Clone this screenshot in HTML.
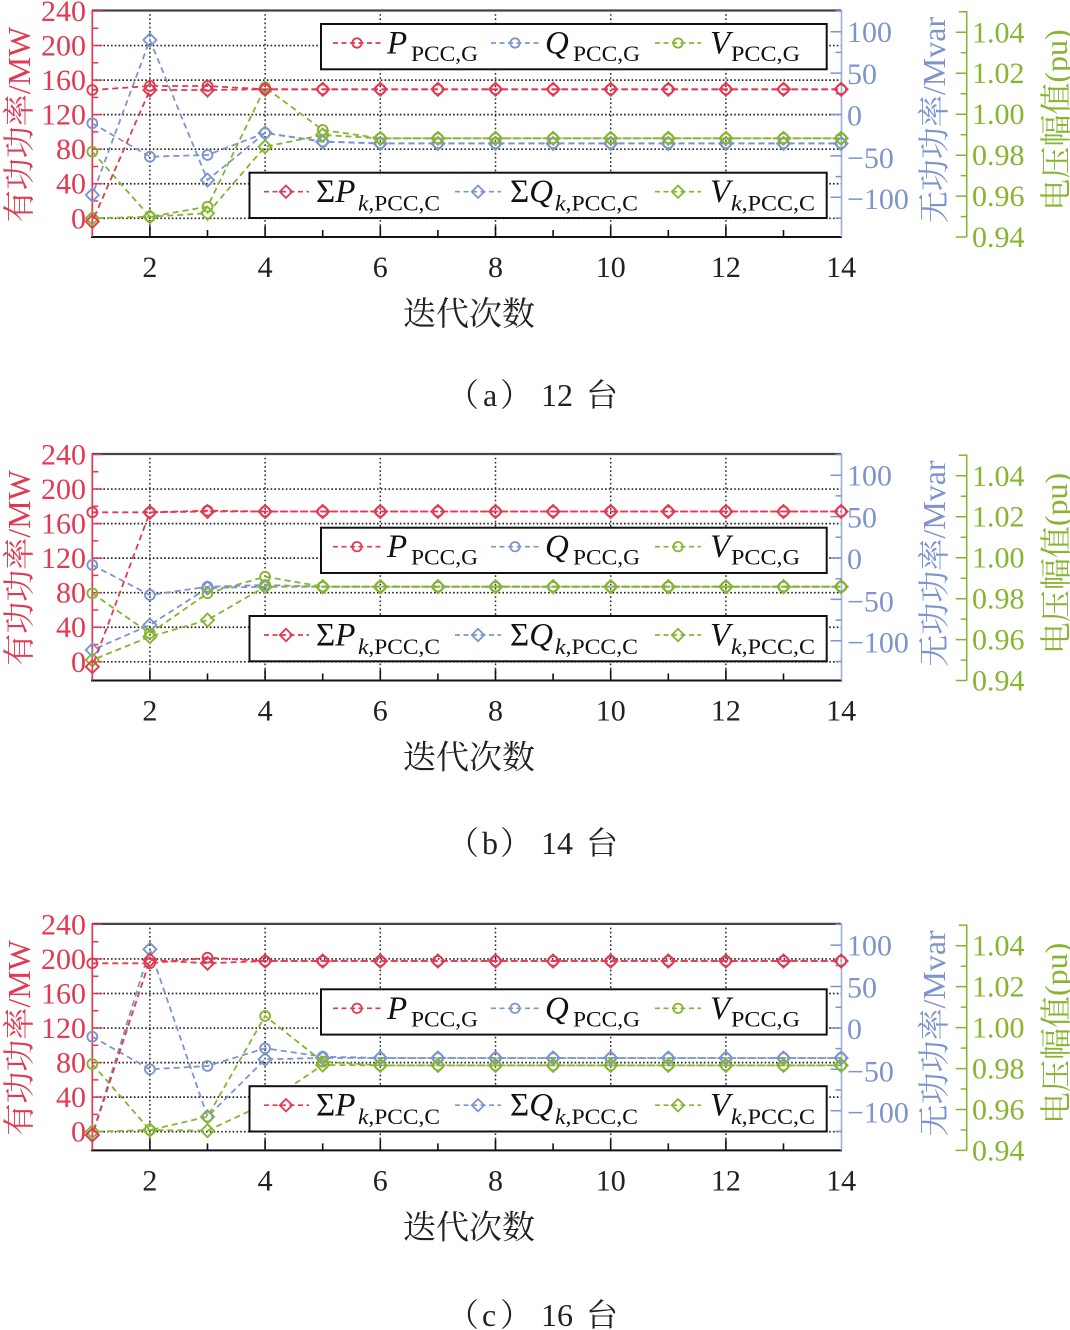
<!DOCTYPE html>
<html><head><meta charset="utf-8">
<style>
html,body{margin:0;padding:0;background:#fff;width:1070px;height:1330px;overflow:hidden}
svg{display:block}
.s{fill:none;stroke-width:1.8;stroke-dasharray:6 4}
.r{stroke:#e23a52}.b{stroke:#7d95cc}.g{stroke:#86b530}
.t{font-family:"Liberation Serif","Noto Serif CJK SC",serif}
.lg{stroke-width:1.7;stroke-dasharray:5 3.5}
</style></head>
<body>
<svg width="1070" height="1330" viewBox="0 0 1070 1330" xmlns="http://www.w3.org/2000/svg">
<defs>
<marker id="cR" markerUnits="userSpaceOnUse" markerWidth="16" markerHeight="16" refX="8" refY="8" overflow="visible"><circle cx="8" cy="8" r="4.9" fill="none" stroke="#e23a52" stroke-width="1.9" stroke-dasharray="none"/></marker>
<marker id="dR" markerUnits="userSpaceOnUse" markerWidth="16" markerHeight="16" refX="8" refY="8" overflow="visible"><path d="M8 1.5L14.5 8L8 14.5L1.5 8Z" fill="none" stroke="#e23a52" stroke-width="1.9" stroke-dasharray="none"/></marker>
<marker id="cB" markerUnits="userSpaceOnUse" markerWidth="16" markerHeight="16" refX="8" refY="8" overflow="visible"><circle cx="8" cy="8" r="4.9" fill="none" stroke="#7d95cc" stroke-width="1.9" stroke-dasharray="none"/></marker>
<marker id="dB" markerUnits="userSpaceOnUse" markerWidth="16" markerHeight="16" refX="8" refY="8" overflow="visible"><path d="M8 1.5L14.5 8L8 14.5L1.5 8Z" fill="none" stroke="#7d95cc" stroke-width="1.9" stroke-dasharray="none"/></marker>
<marker id="cG" markerUnits="userSpaceOnUse" markerWidth="16" markerHeight="16" refX="8" refY="8" overflow="visible"><circle cx="8" cy="8" r="4.9" fill="none" stroke="#86b530" stroke-width="1.9" stroke-dasharray="none"/></marker>
<marker id="dG" markerUnits="userSpaceOnUse" markerWidth="16" markerHeight="16" refX="8" refY="8" overflow="visible"><path d="M8 1.5L14.5 8L8 14.5L1.5 8Z" fill="none" stroke="#86b530" stroke-width="1.9" stroke-dasharray="none"/></marker>

<g id="ax">
  <path d="M149.9 10V237M265.1 10V237M380.3 10V237M495.5 10V237M610.7 10V237M725.9 10V237" stroke="#222" stroke-width="1.5" stroke-dasharray="1.6 2.6" fill="none"/>
  <path d="M92 45.55H841M92 80.1H841M92 114.65H841M92 149.2H841M92 183.75H841M92 218.3H841" stroke="#222" stroke-width="1.7" stroke-dasharray="1.6 2.2" fill="none"/>
  <path d="M92 10.5H841" stroke="#444" stroke-width="2.2"/>
  <path d="M91 237H842" stroke="#111" stroke-width="2"/>
  <path d="M149.9 237v-11M265.1 237v-11M380.3 237v-11M495.5 237v-11M610.7 237v-11M725.9 237v-11M207.5 237v-7M322.7 237v-7M437.9 237v-7M553.1 237v-7M668.3 237v-7M783.5 237v-7" stroke="#111" stroke-width="1.6"/>
  <path d="M92.3 10V237" stroke="#e23a52" stroke-width="1.7"/>
  <path d="M92.3 218.3h10M92.3 183.75h10M92.3 149.2h10M92.3 114.65h10M92.3 80.1h10M92.3 45.55h10M92.3 11h10M92.3 201h6M92.3 166.5h6M92.3 131.9h6M92.3 97.4h6M92.3 62.8h6M92.3 28.3h6" stroke="#e23a52" stroke-width="1.5"/>
  <path d="M841.5 10V237" stroke="#9aaedb" stroke-width="1.6"/>
  <path d="M841.5 31.7h-11M841.5 73.1h-11M841.5 114.5h-11M841.5 155.9h-11M841.5 197.3h-11M841.5 11h-6M841.5 52.4h-6M841.5 93.8h-6M841.5 135.2h-6M841.5 176.6h-6M841.5 218h-6" stroke="#7d95cc" stroke-width="1.5"/>
  <path d="M966.7 11V237" stroke="#86b530" stroke-width="1.6"/>
  <path d="M966.7 32.3h-11M966.7 73.2h-11M966.7 114.2h-11M966.7 155.2h-11M966.7 196.1h-11M966.7 237h-11M966.7 11.8h-8M966.7 52.8h-6M966.7 93.7h-6M966.7 134.7h-6M966.7 175.6h-6M966.7 216.6h-6" stroke="#86b530" stroke-width="1.5"/>
</g>
</defs>

<!-- ================= PANEL A ================= -->
<g>
<use href="#ax"/>
<polyline class="s b" marker-start="url(#cB)" marker-mid="url(#cB)" marker-end="url(#cB)" points="92.3,123.3 149.9,156.7 207.5,155 265.1,133 322.7,141.5 380.3,143.3 437.9,143.3 495.5,143.3 553.1,143.3 610.7,143.3 668.3,143.3 725.9,143.3 783.5,143.3 841.1,143.3"/>
<polyline class="s b" style="stroke-dashoffset:5" marker-start="url(#dB)" marker-mid="url(#dB)" marker-end="url(#dB)" points="92.3,195 149.9,40 207.5,180 265.1,133 322.7,141.7 380.3,143.5 437.9,143.5 495.5,143.5 553.1,143.5 610.7,143.5 668.3,143.5 725.9,143.5 783.5,143.5 841.1,143.5"/>
<polyline class="s g" marker-start="url(#cG)" marker-mid="url(#cG)" marker-end="url(#cG)" points="92.3,151.7 149.9,216.7 207.5,206.7 265.1,87.3 322.7,130 380.3,138.3 437.9,138.3 495.5,138.3 553.1,138.3 610.7,138.3 668.3,138.3 725.9,138.3 783.5,138.3 841.1,138.3"/>
<polyline class="s g" style="stroke-dashoffset:5" marker-start="url(#dG)" marker-mid="url(#dG)" marker-end="url(#dG)" points="92.3,218.3 149.9,216.7 207.5,213.3 265.1,146.7 322.7,135 380.3,138.3 437.9,138.3 495.5,138.3 553.1,138.3 610.7,138.3 668.3,138.3 725.9,138.3 783.5,138.3 841.1,138.3"/>
<polyline class="s r" marker-start="url(#cR)" marker-mid="url(#cR)" marker-end="url(#cR)" points="92.3,90 149.9,86 207.5,86 265.1,89.3 322.7,89.3 380.3,89.3 437.9,89.3 495.5,89.3 553.1,89.3 610.7,89.3 668.3,89.3 725.9,89.3 783.5,89.3 841.1,89.3"/>
<polyline class="s r" style="stroke-dashoffset:5" marker-start="url(#dR)" marker-mid="url(#dR)" marker-end="url(#dR)" points="92.3,221.5 149.9,90 207.5,90 265.1,89.3 322.7,89.3 380.3,89.3 437.9,89.3 495.5,89.3 553.1,89.3 610.7,89.3 668.3,89.3 725.9,89.3 783.5,89.3 841.1,89.3"/>

<g transform="translate(0,24)">
  <rect x="321" y="0" width="505.7" height="45.3" fill="#fff" stroke="#111" stroke-width="2"/>
  <line class="lg r" x1="333" y1="19" x2="381" y2="19"/><circle cx="357" cy="19" r="4.7" fill="none" stroke="#e23a52" stroke-width="1.8"/>
  <text class="t" x="387" y="29.5" font-size="33" font-style="italic" fill="#111">P</text>
  <text class="t" x="411" y="37" font-size="22" fill="#111" textLength="67" lengthAdjust="spacingAndGlyphs">PCC,G</text>
  <line class="lg b" x1="491" y1="19" x2="539" y2="19"/><circle cx="515" cy="19" r="4.7" fill="none" stroke="#7d95cc" stroke-width="1.8"/>
  <text class="t" x="545" y="29.5" font-size="33" font-style="italic" fill="#111">Q</text>
  <text class="t" x="573" y="37" font-size="22" fill="#111" textLength="67" lengthAdjust="spacingAndGlyphs">PCC,G</text>
  <line class="lg g" x1="655" y1="19" x2="701" y2="19"/><circle cx="678" cy="19" r="4.7" fill="none" stroke="#86b530" stroke-width="1.8"/>
  <text class="t" x="710" y="29.5" font-size="33" font-style="italic" fill="#111">V</text>
  <text class="t" x="731" y="37" font-size="22" fill="#111" textLength="69" lengthAdjust="spacingAndGlyphs">PCC,G</text>
</g>
<g transform="translate(0,172.7)">
  <rect x="249.5" y="0" width="577.2" height="45.3" fill="#fff" stroke="#111" stroke-width="2"/>
  <line class="lg r" x1="264" y1="19" x2="309" y2="19"/><path d="M286 12.8L292.2 19L286 25.2L279.8 19Z" fill="none" stroke="#e23a52" stroke-width="1.8"/>
  <text class="t" x="316" y="29.5" font-size="33" fill="#111">Σ<tspan font-style="italic">P</tspan></text>
  <text class="t" x="358" y="38" font-size="22" fill="#111" textLength="82" lengthAdjust="spacingAndGlyphs"><tspan font-style="italic">k</tspan>,PCC,C</text>
  <line class="lg b" x1="455" y1="19" x2="501" y2="19"/><path d="M478 12.8L484.2 19L478 25.2L471.8 19Z" fill="none" stroke="#7d95cc" stroke-width="1.8"/>
  <text class="t" x="510" y="29.5" font-size="33" fill="#111">Σ<tspan font-style="italic">Q</tspan></text>
  <text class="t" x="555" y="38" font-size="22" fill="#111" textLength="83" lengthAdjust="spacingAndGlyphs"><tspan font-style="italic">k</tspan>,PCC,C</text>
  <line class="lg g" x1="655" y1="19" x2="701" y2="19"/><path d="M678 12.8L684.2 19L678 25.2L671.8 19Z" fill="none" stroke="#86b530" stroke-width="1.8"/>
  <text class="t" x="710" y="29.5" font-size="33" font-style="italic" fill="#111">V</text>
  <text class="t" x="731" y="38" font-size="22" fill="#111" textLength="84" lengthAdjust="spacingAndGlyphs"><tspan font-style="italic">k</tspan>,PCC,C</text>
</g>

<g class="t" font-size="30" fill="#e23a52" text-anchor="end">
  <text x="86" y="21">240</text><text x="86" y="55.5">200</text><text x="86" y="90">160</text><text x="86" y="124.7">120</text><text x="86" y="159.2">80</text><text x="86" y="193.7">40</text><text x="86" y="228.3">0</text>
</g>
<g class="t" font-size="30" fill="#7d95cc">
  <text x="847" y="42">100</text><text x="847" y="84">50</text><text x="847" y="125.5">0</text><text x="847" y="168">−50</text><text x="847" y="209">−100</text>
</g>
<g class="t" font-size="30" fill="#86b530">
  <text x="972" y="42.3">1.04</text><text x="972" y="83.2">1.02</text><text x="972" y="124.2">1.00</text><text x="972" y="165.2">0.98</text><text x="972" y="206.1">0.96</text><text x="972" y="247">0.94</text>
</g>
<g class="t" font-size="30" fill="#222" text-anchor="middle">
  <text x="149.9" y="277">2</text><text x="265.1" y="277">4</text><text x="380.3" y="277">6</text><text x="495.5" y="277">8</text><text x="610.7" y="277">10</text><text x="725.9" y="277">12</text><text x="841.1" y="277">14</text>
</g>
<text class="t" transform="translate(30,124.5) rotate(-90)" text-anchor="middle" font-size="32" fill="#e23a52">有功功率/MW</text>
<text class="t" transform="translate(945,120) rotate(-90)" text-anchor="middle" font-size="32" fill="#7d95cc">无功功率/Mvar</text>
<text class="t" transform="translate(1067,120) rotate(-90)" text-anchor="middle" font-size="32" fill="#86b530">电压幅值(pu)</text>
<text class="t" x="469" y="325" text-anchor="middle" font-size="33" fill="#222">迭代次数</text>
</g>
<text class="t" y="406" font-size="32" fill="#222"><tspan x="447">（</tspan><tspan x="483">a</tspan><tspan x="500">）</tspan><tspan x="541">12</tspan><tspan x="586">台</tspan></text>

<!-- ================= PANEL B ================= -->
<g transform="translate(0,443.5)">
<use href="#ax"/>
<polyline class="s b" marker-start="url(#cB)" marker-mid="url(#cB)" marker-end="url(#cB)" points="92.3,121.5 149.9,151.5 207.5,143.2 265.1,141.5 322.7,143.2 380.3,143.2 437.9,143.2 495.5,143.2 553.1,143.2 610.7,143.2 668.3,143.2 725.9,143.2 783.5,143.2 841.1,143.2"/>
<polyline class="s b" style="stroke-dashoffset:5" marker-start="url(#dB)" marker-mid="url(#dB)" marker-end="url(#dB)" points="92.3,206.5 149.9,181.5 207.5,144.5 265.1,143.2 322.7,143.2 380.3,143.2 437.9,143.2 495.5,143.2 553.1,143.2 610.7,143.2 668.3,143.2 725.9,143.2 783.5,143.2 841.1,143.2"/>
<polyline class="s g" marker-start="url(#cG)" marker-mid="url(#cG)" marker-end="url(#cG)" points="92.3,149.8 149.9,189.8 207.5,149.8 265.1,133.2 322.7,143.2 380.3,143.2 437.9,143.2 495.5,143.2 553.1,143.2 610.7,143.2 668.3,143.2 725.9,143.2 783.5,143.2 841.1,143.2"/>
<polyline class="s g" style="stroke-dashoffset:5" marker-start="url(#dG)" marker-mid="url(#dG)" marker-end="url(#dG)" points="92.3,216.5 149.9,193.2 207.5,176.5 265.1,143.2 322.7,143.2 380.3,143.2 437.9,143.2 495.5,143.2 553.1,143.2 610.7,143.2 668.3,143.2 725.9,143.2 783.5,143.2 841.1,143.2"/>
<polyline class="s r" marker-start="url(#cR)" marker-mid="url(#cR)" marker-end="url(#cR)" points="92.3,68.8 149.9,68.8 207.5,67.2 265.1,68 322.7,68 380.3,68 437.9,68 495.5,68 553.1,68 610.7,68 668.3,68 725.9,68 783.5,68 841.1,68"/>
<polyline class="s r" style="stroke-dashoffset:5" marker-start="url(#dR)" marker-mid="url(#dR)" marker-end="url(#dR)" points="92.3,223.2 149.9,68.8 207.5,68 265.1,68 322.7,68 380.3,68 437.9,68 495.5,68 553.1,68 610.7,68 668.3,68 725.9,68 783.5,68 841.1,68"/>

<g transform="translate(0,84.2)">
  <rect x="321" y="0" width="505.7" height="45.3" fill="#fff" stroke="#111" stroke-width="2"/>
  <line class="lg r" x1="333" y1="19" x2="381" y2="19"/><circle cx="357" cy="19" r="4.7" fill="none" stroke="#e23a52" stroke-width="1.8"/>
  <text class="t" x="387" y="29.5" font-size="33" font-style="italic" fill="#111">P</text>
  <text class="t" x="411" y="37" font-size="22" fill="#111" textLength="67" lengthAdjust="spacingAndGlyphs">PCC,G</text>
  <line class="lg b" x1="491" y1="19" x2="539" y2="19"/><circle cx="515" cy="19" r="4.7" fill="none" stroke="#7d95cc" stroke-width="1.8"/>
  <text class="t" x="545" y="29.5" font-size="33" font-style="italic" fill="#111">Q</text>
  <text class="t" x="573" y="37" font-size="22" fill="#111" textLength="67" lengthAdjust="spacingAndGlyphs">PCC,G</text>
  <line class="lg g" x1="655" y1="19" x2="701" y2="19"/><circle cx="678" cy="19" r="4.7" fill="none" stroke="#86b530" stroke-width="1.8"/>
  <text class="t" x="710" y="29.5" font-size="33" font-style="italic" fill="#111">V</text>
  <text class="t" x="731" y="37" font-size="22" fill="#111" textLength="69" lengthAdjust="spacingAndGlyphs">PCC,G</text>
</g>
<g transform="translate(0,172.5)">
  <rect x="249.5" y="0" width="577.2" height="45.3" fill="#fff" stroke="#111" stroke-width="2"/>
  <line class="lg r" x1="264" y1="19" x2="309" y2="19"/><path d="M286 12.8L292.2 19L286 25.2L279.8 19Z" fill="none" stroke="#e23a52" stroke-width="1.8"/>
  <text class="t" x="316" y="29.5" font-size="33" fill="#111">Σ<tspan font-style="italic">P</tspan></text>
  <text class="t" x="358" y="38" font-size="22" fill="#111" textLength="82" lengthAdjust="spacingAndGlyphs"><tspan font-style="italic">k</tspan>,PCC,C</text>
  <line class="lg b" x1="455" y1="19" x2="501" y2="19"/><path d="M478 12.8L484.2 19L478 25.2L471.8 19Z" fill="none" stroke="#7d95cc" stroke-width="1.8"/>
  <text class="t" x="510" y="29.5" font-size="33" fill="#111">Σ<tspan font-style="italic">Q</tspan></text>
  <text class="t" x="555" y="38" font-size="22" fill="#111" textLength="83" lengthAdjust="spacingAndGlyphs"><tspan font-style="italic">k</tspan>,PCC,C</text>
  <line class="lg g" x1="655" y1="19" x2="701" y2="19"/><path d="M678 12.8L684.2 19L678 25.2L671.8 19Z" fill="none" stroke="#86b530" stroke-width="1.8"/>
  <text class="t" x="710" y="29.5" font-size="33" font-style="italic" fill="#111">V</text>
  <text class="t" x="731" y="38" font-size="22" fill="#111" textLength="84" lengthAdjust="spacingAndGlyphs"><tspan font-style="italic">k</tspan>,PCC,C</text>
</g>

<g class="t" font-size="30" fill="#e23a52" text-anchor="end">
  <text x="86" y="21">240</text><text x="86" y="55.5">200</text><text x="86" y="90">160</text><text x="86" y="124.7">120</text><text x="86" y="159.2">80</text><text x="86" y="193.7">40</text><text x="86" y="228.3">0</text>
</g>
<g class="t" font-size="30" fill="#7d95cc">
  <text x="847" y="42">100</text><text x="847" y="84">50</text><text x="847" y="125.5">0</text><text x="847" y="168">−50</text><text x="847" y="209">−100</text>
</g>
<g class="t" font-size="30" fill="#86b530">
  <text x="972" y="42.3">1.04</text><text x="972" y="83.2">1.02</text><text x="972" y="124.2">1.00</text><text x="972" y="165.2">0.98</text><text x="972" y="206.1">0.96</text><text x="972" y="247">0.94</text>
</g>
<g class="t" font-size="30" fill="#222" text-anchor="middle">
  <text x="149.9" y="277">2</text><text x="265.1" y="277">4</text><text x="380.3" y="277">6</text><text x="495.5" y="277">8</text><text x="610.7" y="277">10</text><text x="725.9" y="277">12</text><text x="841.1" y="277">14</text>
</g>
<text class="t" transform="translate(30,124.5) rotate(-90)" text-anchor="middle" font-size="32" fill="#e23a52">有功功率/MW</text>
<text class="t" transform="translate(945,120) rotate(-90)" text-anchor="middle" font-size="32" fill="#7d95cc">无功功率/Mvar</text>
<text class="t" transform="translate(1067,120) rotate(-90)" text-anchor="middle" font-size="32" fill="#86b530">电压幅值(pu)</text>
<text class="t" x="469" y="325" text-anchor="middle" font-size="33" fill="#222">迭代次数</text>
</g>
<text class="t" y="854" font-size="32" fill="#222"><tspan x="447">（</tspan><tspan x="482">b</tspan><tspan x="500">）</tspan><tspan x="541">14</tspan><tspan x="586">台</tspan></text>

<!-- ================= PANEL C ================= -->
<g transform="translate(0,913.4)">
<use href="#ax"/>
<polyline class="s b" marker-start="url(#cB)" marker-mid="url(#cB)" marker-end="url(#cB)" points="92.3,123.3 149.9,155.9 207.5,152.6 265.1,134.9 322.7,143.3 380.3,144.6 437.9,144.6 495.5,144.6 553.1,144.6 610.7,144.6 668.3,144.6 725.9,144.6 783.5,144.6 841.1,144.6"/>
<polyline class="s b" style="stroke-dashoffset:5" marker-start="url(#dB)" marker-mid="url(#dB)" marker-end="url(#dB)" points="92.3,221.6 149.9,35.9 207.5,203.3 265.1,145.9 322.7,144.6 380.3,144.6 437.9,144.6 495.5,144.6 553.1,144.6 610.7,144.6 668.3,144.6 725.9,144.6 783.5,144.6 841.1,144.6"/>
<polyline class="s g" marker-start="url(#cG)" marker-mid="url(#cG)" marker-end="url(#cG)" points="92.3,150.6 149.9,216.6 207.5,203.3 265.1,102.6 322.7,148.3 380.3,152 437.9,152 495.5,152 553.1,152 610.7,152 668.3,152 725.9,152 783.5,152 841.1,152"/>
<polyline class="s g" style="stroke-dashoffset:5" marker-start="url(#dG)" marker-mid="url(#dG)" marker-end="url(#dG)" points="92.3,218.3 149.9,216.6 207.5,217.3 265.1,190.3 322.7,151.6 380.3,152 437.9,152 495.5,152 553.1,152 610.7,152 668.3,152 725.9,152 783.5,152 841.1,152"/>
<polyline class="s r" marker-start="url(#cR)" marker-mid="url(#cR)" marker-end="url(#cR)" points="92.3,49.9 149.9,49.9 207.5,44.3 265.1,47.6 322.7,47.6 380.3,47.6 437.9,47.6 495.5,47.6 553.1,47.6 610.7,47.6 668.3,47.6 725.9,47.6 783.5,47.6 841.1,47.6"/>
<polyline class="s r" style="stroke-dashoffset:5" marker-start="url(#dR)" marker-mid="url(#dR)" marker-end="url(#dR)" points="92.3,221.6 149.9,46.6 207.5,49.9 265.1,47.6 322.7,47.6 380.3,47.6 437.9,47.6 495.5,47.6 553.1,47.6 610.7,47.6 668.3,47.6 725.9,47.6 783.5,47.6 841.1,47.6"/>

<g transform="translate(0,75.9)">
  <rect x="321" y="0" width="505.7" height="45.3" fill="#fff" stroke="#111" stroke-width="2"/>
  <line class="lg r" x1="333" y1="19" x2="381" y2="19"/><circle cx="357" cy="19" r="4.7" fill="none" stroke="#e23a52" stroke-width="1.8"/>
  <text class="t" x="387" y="29.5" font-size="33" font-style="italic" fill="#111">P</text>
  <text class="t" x="411" y="37" font-size="22" fill="#111" textLength="67" lengthAdjust="spacingAndGlyphs">PCC,G</text>
  <line class="lg b" x1="491" y1="19" x2="539" y2="19"/><circle cx="515" cy="19" r="4.7" fill="none" stroke="#7d95cc" stroke-width="1.8"/>
  <text class="t" x="545" y="29.5" font-size="33" font-style="italic" fill="#111">Q</text>
  <text class="t" x="573" y="37" font-size="22" fill="#111" textLength="67" lengthAdjust="spacingAndGlyphs">PCC,G</text>
  <line class="lg g" x1="655" y1="19" x2="701" y2="19"/><circle cx="678" cy="19" r="4.7" fill="none" stroke="#86b530" stroke-width="1.8"/>
  <text class="t" x="710" y="29.5" font-size="33" font-style="italic" fill="#111">V</text>
  <text class="t" x="731" y="37" font-size="22" fill="#111" textLength="69" lengthAdjust="spacingAndGlyphs">PCC,G</text>
</g>
<g transform="translate(0,172.8)">
  <rect x="249.5" y="0" width="577.2" height="45.3" fill="#fff" stroke="#111" stroke-width="2"/>
  <line class="lg r" x1="264" y1="19" x2="309" y2="19"/><path d="M286 12.8L292.2 19L286 25.2L279.8 19Z" fill="none" stroke="#e23a52" stroke-width="1.8"/>
  <text class="t" x="316" y="29.5" font-size="33" fill="#111">Σ<tspan font-style="italic">P</tspan></text>
  <text class="t" x="358" y="38" font-size="22" fill="#111" textLength="82" lengthAdjust="spacingAndGlyphs"><tspan font-style="italic">k</tspan>,PCC,C</text>
  <line class="lg b" x1="455" y1="19" x2="501" y2="19"/><path d="M478 12.8L484.2 19L478 25.2L471.8 19Z" fill="none" stroke="#7d95cc" stroke-width="1.8"/>
  <text class="t" x="510" y="29.5" font-size="33" fill="#111">Σ<tspan font-style="italic">Q</tspan></text>
  <text class="t" x="555" y="38" font-size="22" fill="#111" textLength="83" lengthAdjust="spacingAndGlyphs"><tspan font-style="italic">k</tspan>,PCC,C</text>
  <line class="lg g" x1="655" y1="19" x2="701" y2="19"/><path d="M678 12.8L684.2 19L678 25.2L671.8 19Z" fill="none" stroke="#86b530" stroke-width="1.8"/>
  <text class="t" x="710" y="29.5" font-size="33" font-style="italic" fill="#111">V</text>
  <text class="t" x="731" y="38" font-size="22" fill="#111" textLength="84" lengthAdjust="spacingAndGlyphs"><tspan font-style="italic">k</tspan>,PCC,C</text>
</g>

<g class="t" font-size="30" fill="#e23a52" text-anchor="end">
  <text x="86" y="21">240</text><text x="86" y="55.5">200</text><text x="86" y="90">160</text><text x="86" y="124.7">120</text><text x="86" y="159.2">80</text><text x="86" y="193.7">40</text><text x="86" y="228.3">0</text>
</g>
<g class="t" font-size="30" fill="#7d95cc">
  <text x="847" y="42">100</text><text x="847" y="84">50</text><text x="847" y="125.5">0</text><text x="847" y="168">−50</text><text x="847" y="209">−100</text>
</g>
<g class="t" font-size="30" fill="#86b530">
  <text x="972" y="42.3">1.04</text><text x="972" y="83.2">1.02</text><text x="972" y="124.2">1.00</text><text x="972" y="165.2">0.98</text><text x="972" y="206.1">0.96</text><text x="972" y="247">0.94</text>
</g>
<g class="t" font-size="30" fill="#222" text-anchor="middle">
  <text x="149.9" y="277">2</text><text x="265.1" y="277">4</text><text x="380.3" y="277">6</text><text x="495.5" y="277">8</text><text x="610.7" y="277">10</text><text x="725.9" y="277">12</text><text x="841.1" y="277">14</text>
</g>
<text class="t" transform="translate(30,124.5) rotate(-90)" text-anchor="middle" font-size="32" fill="#e23a52">有功功率/MW</text>
<text class="t" transform="translate(945,120) rotate(-90)" text-anchor="middle" font-size="32" fill="#7d95cc">无功功率/Mvar</text>
<text class="t" transform="translate(1067,120) rotate(-90)" text-anchor="middle" font-size="32" fill="#86b530">电压幅值(pu)</text>
<text class="t" x="469" y="325" text-anchor="middle" font-size="33" fill="#222">迭代次数</text>
</g>
<text class="t" y="1326" font-size="32" fill="#222"><tspan x="447">（</tspan><tspan x="482">c</tspan><tspan x="500">）</tspan><tspan x="541">16</tspan><tspan x="586">台</tspan></text>
</svg>
</body></html>
